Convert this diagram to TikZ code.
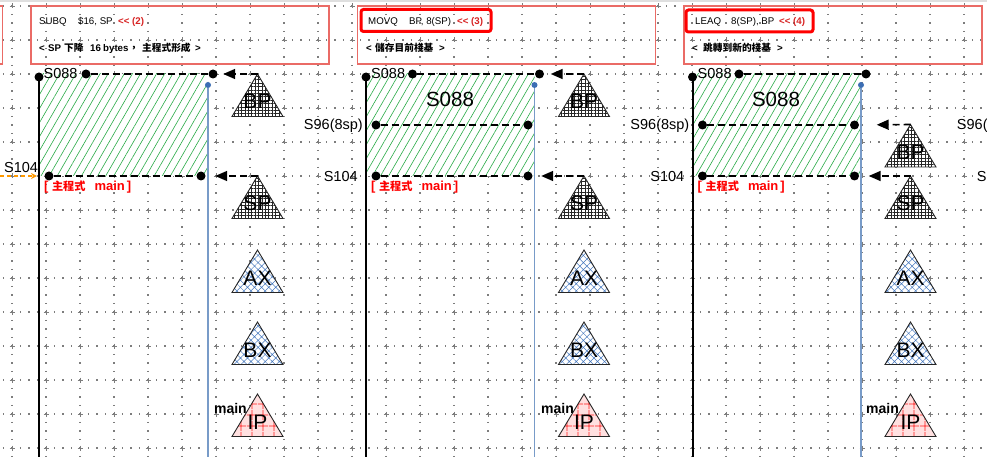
\documentclass[tikz,border=0pt]{standalone}
\usepackage{fontspec}
\setmainfont{Liberation Sans}
\newfontfamily\cjk[Scale=0.86]{Noto Sans CJK TC}
\newfontfamily\cjkb{Noto Sans CJK TC}
\usetikzlibrary{patterns.meta,arrows.meta}
\definecolor{boxred}{RGB}{234,107,102}
\definecolor{hred}{RGB}{255,0,0}
\definecolor{tred}{RGB}{215,35,35}
\definecolor{hgreen}{RGB}{40,170,70}
\definecolor{bline}{RGB}{120,155,200}
\definecolor{bdot}{RGB}{60,110,180}
\definecolor{tblue}{RGB}{70,120,190}
\definecolor{orng}{RGB}{255,153,0}
\definecolor{gridc}{RGB}{125,125,125}
\newcommand\mytri[5]{%
  \path[#4] (#2,#3) -- ++(25.5,42.5) -- ++(-51,0) -- cycle;
  \coordinate (#1) at (#2,#3);
  \node[trilbl] (#1l) at (#2,#3+35) {#5};}
\begin{document}
\begin{tikzpicture}[x=1pt,y=-1pt,
  griddot/.style={gridc, line width=1.1pt, dash pattern=on 1.1pt off 7.4pt},
  gridx/.style={gridc, line width=0.8pt},
  boxst/.style={draw=boxred, line width=1.2pt},
  inbox/.style={draw=hred, line width=3pt, rounded corners=2.5pt},
  boxt/.style={anchor=base west, inner sep=0, font=\fontsize{9.7}{11}\selectfont},
  boxtb/.style={boxt, font=\fontsize{9.7}{11}\selectfont\bfseries},
  lbl/.style={inner sep=0, font=\fontsize{14.5}{17}\selectfont},
  biglbl/.style={inner sep=0, anchor=base, font=\fontsize{20.5}{24}\selectfont},
  trilbl/.style={anchor=base, inner sep=0, font=\fontsize{21}{24}\selectfont},
  mainlbl/.style={anchor=base east, inner sep=0, font=\fontsize{14}{16}\selectfont\bfseries},
  redlbl/.style={anchor=base west, inner sep=0, text=hred, font=\fontsize{13}{15}\selectfont\bfseries},
  tri/.style={draw=black!85, line width=0.9pt, line join=miter},
  gridpat/.style={tri, preaction={fill=white}, pattern={Hatch[angle=0,distance=3.4pt,line width=0.3pt]}, pattern color=black!85},
  bluepat/.style={tri, preaction={fill=white}, pattern={Hatch[angle=45,distance=5pt,line width=0.5pt]}, pattern color=tblue},
  redpat/.style={tri, preaction={fill=red!12}, pattern={Hatch[angle=0,distance=10.5pt,line width=0.8pt]}, pattern color=red!90},
  hatchst/.style={preaction={fill=white}, pattern={Lines[angle=60,distance=7pt,line width=0.6pt]}, pattern color=hgreen},
  dot/.style={circle, fill=black, inner sep=0, minimum size=9pt},
  bdotst/.style={circle, fill=bdot, inner sep=0, minimum size=6pt},
  dline/.style={line width=1.6pt, dash pattern=on 7pt off 4pt},
  conn/.style={dline, -{Triangle[length=12pt,width=10pt]}},
  bl/.style={bline, line width=1.3pt},
  kl/.style={black, line width=2pt}
]
\useasboundingbox (0,0) rectangle (987,457);
\clip (0,0) rectangle (987,457);
% background grid
\foreach \i in {-1,...,29} {\draw[griddot] (12+34*\i,5.45) -- (12+34*\i,470);}
\foreach \j in {0,...,13} {\draw[griddot] (-22.55,6+34*\j) -- (1000,6+34*\j);}
\foreach \i in {0,...,29} {\foreach \j in {0,...,13} {
  \draw[gridx] (12+34*\i-2.5,6+34*\j) -- (12+34*\i+2.5,6+34*\j)
               (12+34*\i,6+34*\j-2.5) -- (12+34*\i,6+34*\j+2.5);}}
\draw[gray!25, line width=1.6pt] (0,0.8) -- (987,0.8);

% ---------- panel 0 (cut) ----------
\begin{scope}[xshift=-326.5pt]
  \draw[boxst] (31,6) rectangle (329,64);
\end{scope}

% ---------- panel 1 ----------
\begin{scope}
  \draw[boxst] (31,6) rectangle (329,64);
  \node[boxt] (a-t1) at (39,25) {\rlap{SUBQ}\hspace{39pt}\rlap{\$16, SP}\hspace{40pt}{\color{tred}\bfseries <{}< (2)}};
  \node[boxtb] (a-t2) at (39,52) {\rlap{<}\hspace{9pt}\rlap{SP}\hspace{16pt}\rlap{\cjkb 下降}\hspace{26pt}\rlap{16}\hspace{13pt}\rlap{bytes}\hspace{26pt}\rlap{\cjkb ，}\hspace{13pt}\rlap{\cjkb 主程式形成}\hspace{53pt}>};
  \fill[hatchst] (40,74) rectangle (208,176);
  \node[bdotst] (a-q) at (208,85) {};
  \coordinate (a-qe) at (208,460);
  \draw[bl] (a-q) -- (a-qe);
  \node[dot] (a-k) at (39,77) {};
  \coordinate (a-ke) at (39,460);
  \draw[kl] (a-k.center) -- (a-ke);
  \node[lbl, anchor=base west] (a-s088) at (43.5,78.3) {S088};
  \node[dot] (a-p1) at (86,74) {};
  \node[dot] (a-p2) at (213,74) {};
  \draw[dline] (a-p1) -- (a-p2);
  \node[dot] (a-r1) at (49,176) {};
  \node[dot] (a-r2) at (201,176) {};
  \draw[dline] (a-r1) -- (a-r2);
  \node[lbl, anchor=base west] (a-s104) at (4,173) {S104};
  \coordinate (a-oa) at (0,176);
  \coordinate (a-ob) at (37,176);
  \draw[orng, line width=1.3pt, dash pattern=on 4pt off 3pt, -{Stealth[length=6pt,width=6pt]}] (a-oa) -- (a-ob);
  \node[redlbl] (a-main) at (44,190) {[\hspace{3.5pt}{\cjk 主程式}\hspace{9pt}main\hspace{2pt}]};
  \mytri{a-bp}{257.5}{74}{gridpat}{BP}
  \mytri{a-sp}{257.5}{176}{gridpat}{SP}
  \mytri{a-ax}{257.5}{250}{bluepat}{AX}
  \mytri{a-bx}{257.5}{322}{bluepat}{BX}
  \mytri{a-ip}{257.5}{394}{redpat}{IP}
  \draw[conn, shorten >=5.5pt] (a-bp) -- (a-p2);
  \draw[conn, shorten >=9.5pt] (a-sp) -- (a-r2);
  \node[mainlbl] (a-ml) at (247,413) {main};
\end{scope}

% ---------- panel 2 ----------
\begin{scope}[xshift=326.5pt]
  \draw[boxst] (31,6) rectangle (329,64);
  \draw[inbox] (34.5,9.5) rectangle (164.5,31.5);
  \node[boxt] (b-t1) at (41.5,25) {\rlap{MOVQ}\hspace{41pt}\rlap{BP, 8(SP)}\hspace{48pt}{\color{tred}\bfseries <{}< (3)}};
  \node[boxtb] (b-t2) at (39.5,52) {\rlap{<}\hspace{9pt}\rlap{\cjkb 儲存目前棧基}\hspace{64pt}>};
  \fill[hatchst] (40,74) rectangle (208,176);
  \node[bdotst] (b-q) at (208,85) {};
  \coordinate (b-qe) at (208,460);
  \draw[bl] (b-q) -- (b-qe);
  \node[dot] (b-k) at (39.5,77) {};
  \coordinate (b-ke) at (39.5,460);
  \draw[kl] (b-k.center) -- (b-ke);
  \node[lbl, anchor=base west] (b-s088) at (44.5,78.3) {S088};
  \node[biglbl] (b-big) at (123.5,107) {S088};
  \node[dot] (b-p1) at (86,74) {};
  \node[dot] (b-p2) at (213,74) {};
  \draw[dline] (b-p1) -- (b-p2);
  \node[dot] (b-m1) at (49.5,125) {};
  \node[dot] (b-m2) at (201.5,125) {};
  \draw[dline] (b-m1) -- (b-m2);
  \node[lbl, anchor=base east] (b-s96) at (36.5,130) {S96(8sp)};
  \node[dot] (b-r1) at (49.5,176) {};
  \node[dot] (b-r2) at (201.5,176) {};
  \draw[dline] (b-r1) -- (b-r2);
  \node[lbl, anchor=base east] (b-s104) at (31.5,181.5) {S104};
  \node[redlbl] (b-main) at (44.5,190) {[\hspace{3.5pt}{\cjk 主程式}\hspace{9pt}main\hspace{2pt}]};
  \mytri{b-bp}{257.5}{74}{gridpat}{BP}
  \mytri{b-sp}{257.5}{176}{gridpat}{SP}
  \mytri{b-ax}{257.5}{250}{bluepat}{AX}
  \mytri{b-bx}{257.5}{322}{bluepat}{BX}
  \mytri{b-ip}{257.5}{394}{redpat}{IP}
  \draw[conn, shorten >=6.5pt] (b-bp) -- (b-p2);
  \draw[conn, shorten >=8.5pt] (b-sp) -- (b-r2);
  \node[mainlbl] (b-ml) at (247.5,413) {main};
\end{scope}

% ---------- panel 3 ----------
\begin{scope}[xshift=653pt]
  \draw[boxst] (31,6) rectangle (329,64);
  \draw[inbox] (33,10) rectangle (160,32);
  \node[boxt] (c-t1) at (42,25) {\rlap{LEAQ}\hspace{36pt}\rlap{8(SP), BP}\hspace{48pt}{\color{tred}\bfseries <{}< (4)}};
  \node[boxtb] (c-t2) at (39,52) {\rlap{<}\hspace{11pt}\rlap{\cjkb 跳轉到新的棧基}\hspace{74pt}>};
  \fill[hatchst] (40,74) rectangle (208,176);
  \node[bdotst] (c-q) at (208,85) {};
  \coordinate (c-qe) at (208,460);
  \draw[bl] (c-q) -- (c-qe);
  \node[dot] (c-k) at (39.5,77) {};
  \coordinate (c-ke) at (39.5,460);
  \draw[kl] (c-k.center) -- (c-ke);
  \node[lbl, anchor=base west] (c-s088) at (44.5,78.3) {S088};
  \node[biglbl] (c-big) at (123,107) {S088};
  \node[dot] (c-p1) at (86,74) {};
  \node[dot] (c-p2) at (213,74) {};
  \draw[dline] (c-p1) -- (c-p2);
  \node[dot] (c-m1) at (49.5,125) {};
  \node[dot] (c-m2) at (201.5,125) {};
  \draw[dline] (c-m1) -- (c-m2);
  \node[lbl, anchor=base east] (c-s96) at (36.5,130) {S96(8sp)};
  \node[dot] (c-r1) at (49.5,176) {};
  \node[dot] (c-r2) at (201.5,176) {};
  \draw[dline] (c-r1) -- (c-r2);
  \node[lbl, anchor=base east] (c-s104) at (31.5,181.5) {S104};
  \node[redlbl] (c-main) at (44.5,190) {[\hspace{3.5pt}{\cjk 主程式}\hspace{9pt}main\hspace{2pt}]};
  \mytri{c-bp}{257.5}{124.5}{gridpat}{BP}
  \mytri{c-sp}{257.5}{176}{gridpat}{SP}
  \mytri{c-ax}{257.5}{250}{bluepat}{AX}
  \mytri{c-bx}{257.5}{322}{bluepat}{BX}
  \mytri{c-ip}{257.5}{394}{redpat}{IP}
  \draw[conn, shorten >=17.5pt] (c-bp) -- (c-m2);
  \draw[conn, shorten >=9.5pt] (c-sp) -- (c-r2);
  \node[mainlbl] (c-ml) at (246,413) {main};
\end{scope}

% ---------- panel 4 (cut) ----------
\begin{scope}[xshift=979.5pt]
  \node[lbl, anchor=base east] (d-s96) at (36.5,130) {S96(8sp)};
  \node[lbl, anchor=base east] (d-s104) at (31.5,181.5) {S104};
\end{scope}
\end{tikzpicture}
\end{document}
